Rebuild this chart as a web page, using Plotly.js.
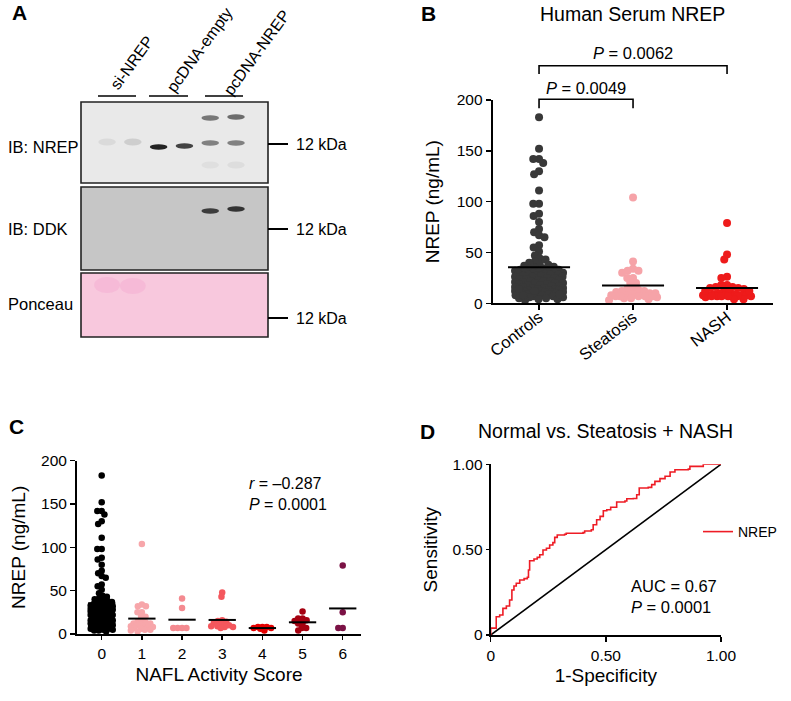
<!DOCTYPE html>
<html><head><meta charset="utf-8">
<script src="https://cdn.plot.ly/plotly-3.0.1.min.js"></script>
<style>html,body{margin:0;padding:0;background:#fff}#chart{width:791px;height:701px}</style>
</head><body><div id="chart"></div>
<script>
// ---------------- DATA ----------------
// Panel B categories
const bCategories = ['Controls', 'Steatosis', 'NASH'];
// Panel C: NAFL activity score groups (ng/mL)
const nasScores = [0, 1, 2, 3, 4, 5, 6];
const score0 = [183,152,142,142,138,130,127,111,98,98,88,86,80,73,70,67,65,57,55,51,47,44,43,41,40,38,38,37,36,
  35,34,34,33,33,32,32,31,31,30,30,30,29,29,28,28,28,27,27,27,26,26,26,25,25,24,24,23,23,22,
  22,22,21,21,20,20,20,19,19,18,18,17,17,16,16,15,15,15,14,14,13,13,13,12,12,12,11,11,11,10,
  10,10,9,9,9,8,8,7,7,6,6,5,5,4,4,3,8,9,12,14];
const score1 = [104,34,32,32,25,25,20,20,15,14,13,12,12,11,10,10,9,8,8,7,6,5,5,4,3];
const score2 = [41,30,7,7,7,7];
const score3 = [48,43,16,15,14,13,11,10,9,9,8,8,7];
const score4 = [8,8,8,7,7,6,4];
const score5 = [26,18,18,16,15,12,12,7,7,4];
const score6 = [79,25,7,7];
// Panel C statistics
const cStatsText = ['<i>r</i> = \u20130.287', '<i>P</i> = 0.0001'];
// Panel B comparisons
const bComparisons = [{from: 0, to: 1, label: '<i>P</i> = 0.0049'}, {from: 0, to: 2, label: '<i>P</i> = 0.0062'}];
// Panel D ROC curve (1-specificity, sensitivity)
const rocFPR = [0,0,0.024,0.039,0.053,0.068,0.082,0.092,0.101,0.111,0.126,0.145,0.159,0.164,0.169,0.188,0.202,0.213,0.227,0.242,0.256,0.270,0.278,0.289,0.321,0.328,0.401,0.408,0.437,0.445,0.460,0.475,0.489,0.504,0.521,0.547,0.583,0.591,0.619,0.634,0.645,0.684,0.699,0.713,0.735,0.757,0.779,0.800,0.858,0.865,0.923,0.923,1.0];
const rocTPR = [0,0.04,0.107,0.117,0.156,0.170,0.205,0.264,0.287,0.303,0.322,0.330,0.338,0.381,0.435,0.445,0.455,0.470,0.498,0.508,0.527,0.541,0.572,0.586,0.590,0.596,0.600,0.609,0.617,0.646,0.675,0.695,0.728,0.734,0.748,0.779,0.785,0.798,0.800,0.822,0.861,0.865,0.881,0.900,0.916,0.930,0.955,0.968,0.972,0.988,0.994,1.0,1.0];
const rocStatsText = ['AUC = 0.67', '<i>P</i> = 0.0001'];
// Panel A western blot
const laneGroups = ['si-NREP', 'pcDNA-empty', 'pcDNA-NREP'];
const blotPanels = ['IB: NREP', 'IB: DDK', 'Ponceau'];
const markerLabel = '12 kDa';
const bandLane = [1, 2, 3, 4, 5, 6, 5, 6, 5, 6, 5, 6];
const bandRow = [142, 142, 147, 146, 143, 143, 118, 117, 165, 165, 211, 209];
const bandIntensity = [0.07, 0.13, 0.95, 0.8, 0.5, 0.5, 0.55, 0.6, 0.05, 0.06, 0.8, 0.85];
const ponceauLane = [1, 2];
const ponceauRow = [285, 286];

// ---------------- LAYOUT HELPERS ----------------
const W = 791, H = 701;
const X = p => p / W;
const Y = p => 1 - p / H;
const FONT = 'Liberation Sans, Arial, Helvetica, sans-serif';

// swarm layout (pixel space)
function swarm(vals, pyPerUnit, dist, maxHalf) {
  const idx = vals.map((v, i) => i).sort((a, b) => vals[b] - vals[a]);
  const placed = []; const off = new Array(vals.length);
  for (const i of idx) {
    const y = vals[i] * pyPerUnit;
    const near = placed.filter(p => Math.abs(p.y - y) < dist);
    const cands = [0];
    near.forEach(p => { const dx = Math.sqrt(dist * dist - (p.y - y) ** 2); cands.push(p.x + dx, p.x - dx); });
    cands.sort((a, b) => (Math.abs(a) - Math.abs(b)) || (a - b));
    let best = null;
    for (const c of cands) {
      if (Math.abs(c) > maxHalf + 1e-9) continue;
      if (near.every(p => (p.x - c) ** 2 + (p.y - y) ** 2 >= dist * dist - 1e-6)) { best = c; break; }
    }
    if (best === null) {
      let bd = -1;
      for (let c = -maxHalf; c <= maxHalf + 1e-9; c += 0.5) {
        const md = Math.min(...near.map(p => (p.x - c) ** 2 + (p.y - y) ** 2));
        if (md > bd + 1e-9) { bd = md; best = c; }
      }
    }
    placed.push({x: best, y}); off[i] = best;
  }
  return off;
}
const mean = a => a.reduce((s, v) => s + v, 0) / a.length;

const traces = [];
const shapes = [];
const annotations = [];

// ---------------- PANEL B ----------------
const bPxY = (303.3 - 100) / 200, bPxX = 94;
const bGroups = [score0, score1.concat(score2), score3.concat(score4, score5, score6)];
const bColors = ['#383838', '#f6a3a8', '#ee1b1b'];
bGroups.forEach((vals, gi) => {
  const off = swarm(vals, bPxY, 5.8, 24);
  traces.push({type: 'scatter', mode: 'markers', xaxis: 'x2', yaxis: 'y2', showlegend: false, cliponaxis: false,
    x: off.map(o => gi + o / bPxX), y: vals, marker: {size: 8, color: bColors[gi], line: {width: 0}}, hoverinfo: 'skip'});
});
bGroups.forEach((vals, gi) => {
  const m = mean(vals);
  traces.push({type: 'scatter', mode: 'lines', xaxis: 'x2', yaxis: 'y2', showlegend: false,
    x: [gi - 0.33, gi + 0.33], y: [m, m], line: {color: '#000', width: 2}, hoverinfo: 'skip'});
});
// brackets
const bracketPx = [{top: 99.3, leg: 108.3, text: 88.3}, {top: 65.7, leg: 74, text: 53.3}];
bComparisons.forEach((c, k) => {
  const bp = bracketPx[k];
  const pts = [[c.from, bp.leg], [c.from, bp.top], [c.to, bp.top], [c.to, bp.leg]];
  shapes.push({type: 'path', xref: 'x2', yref: 'paper', layer: 'above',
    path: pts.map((p, i) => (i ? 'L' : 'M') + p[0] + ',' + Y(p[1])).join(' '), line: {color: '#000', width: 1.6}});
  annotations.push({xref: 'x2', yref: 'paper', x: (c.from + c.to) / 2, y: Y(bp.text), text: c.label, showarrow: false,
    xanchor: 'center', yanchor: 'middle', font: {size: 16.5, family: FONT, color: '#000'}});
});

// ---------------- PANEL C ----------------
const cPxY = (634 - 460.7) / 200, cPxX = (342.7 - 101.7) / 6;
const cGroups = [score0, score1, score2, score3, score4, score5, score6];
const cColors = ['#000000', '#f7a6aa', '#f48a90', '#f4575d', '#e50000', '#a50010', '#7b1245'];
cGroups.forEach((vals, gi) => {
  const off = swarm(vals, cPxY, 4.4, 11);
  traces.push({type: 'scatter', mode: 'markers', xaxis: 'x', yaxis: 'y', showlegend: false, cliponaxis: false,
    x: off.map(o => nasScores[gi] + o / cPxX), y: vals, marker: {size: 6.5, color: cColors[gi], line: {width: 0}}, hoverinfo: 'skip'});
});
cGroups.forEach((vals, gi) => {
  const m = mean(vals);
  traces.push({type: 'scatter', mode: 'lines', xaxis: 'x', yaxis: 'y', showlegend: false,
    x: [nasScores[gi] - 0.34, nasScores[gi] + 0.34], y: [m, m], line: {color: '#000', width: 2}, hoverinfo: 'skip'});
});
annotations.push({xref: 'paper', yref: 'paper', x: X(247), y: Y(494), text: cStatsText.join('<br>'), showarrow: false, align: 'left', xanchor: 'left', yanchor: 'middle', font: {size: 16, family: FONT, color: '#000'}});

// ---------------- PANEL D ----------------
traces.push({type: 'scatter', mode: 'lines', xaxis: 'x3', yaxis: 'y3', showlegend: false,
  x: [0, 1], y: [0, 1], line: {color: '#000', width: 1.6}, hoverinfo: 'skip'});
traces.push({type: 'scatter', mode: 'lines', xaxis: 'x3', yaxis: 'y3', name: 'NREP', showlegend: true,
  x: rocFPR, y: rocTPR, line: {color: '#ee1c25', width: 1.6, shape: 'hv'}, hoverinfo: 'skip'});
annotations.push({xref: 'paper', yref: 'paper', x: X(629), y: Y(596), text: rocStatsText.join('<br>'), showarrow: false, align: 'left', xanchor: 'left', yanchor: 'middle', font: {size: 16.5, family: FONT, color: '#000'}});

// ---------------- PANEL A (blot) ----------------
const blotBoxes = [[102, 183, '#e9e9e9'], [187, 270, '#c6c6c6'], [273, 337, '#f8c8dd']];
blotBoxes.forEach(b => {
  shapes.push({type: 'rect', xref: 'paper', yref: 'paper', layer: 'above', x0: X(81), x1: X(268), y0: Y(b[1]), y1: Y(b[0]),
    fillcolor: b[2], line: {width: 0}});
});
ponceauLane.forEach((l, i) => {
  shapes.push({type: 'circle', xref: 'x4', yref: 'y4', layer: 'above', x0: l - 0.5, x1: l + 0.5,
    y0: ponceauRow[i] - 8, y1: ponceauRow[i] + 8, fillcolor: 'rgba(240,150,200,0.28)', line: {width: 0}});
});
bandLane.forEach((l, i) => {
  const bg = bandRow[i] < 185 ? 233 : 198;
  const s = Math.round(bg - (bg - 25) * bandIntensity[i]);
  const h = bandIntensity[i] > 0.3 ? 2.7 : 3.5;
  shapes.push({type: 'circle', xref: 'x4', yref: 'y4', layer: 'above', x0: l - 0.34, x1: l + 0.34,
    y0: bandRow[i] - h, y1: bandRow[i] + h, fillcolor: `rgb(${s},${s},${s})`, line: {width: 0}});
});
blotBoxes.forEach(b => {
  shapes.push({type: 'rect', xref: 'paper', yref: 'paper', layer: 'above', x0: X(81), x1: X(268), y0: Y(b[1]), y1: Y(b[0]),
    fillcolor: 'rgba(0,0,0,0)', line: {width: 1.6, color: '#222'}});
});
const panelLabelY = [146.5, 229, 304];
const markerY = [144, 229, 318];
blotPanels.forEach((t, i) => {
  annotations.push({xref: 'paper', yref: 'paper', x: X(6), y: Y(panelLabelY[i]), text: t, showarrow: false, xanchor: 'left', yanchor: 'middle', font: {size: 16.5, family: FONT, color: '#000'}});
  shapes.push({type: 'line', xref: 'paper', yref: 'paper', layer: 'above', x0: X(268), x1: X(288), y0: Y(markerY[i]), y1: Y(markerY[i]), line: {width: 2, color: '#000'}});
  annotations.push({xref: 'paper', yref: 'paper', x: X(294), y: Y(markerY[i]), text: markerLabel, showarrow: false, xanchor: 'left', yanchor: 'middle', font: {size: 16, family: FONT, color: '#000'}});
});
const groupLineX = [[98, 136], [149, 188], [205, 243]];
const groupTextCenter = [[131, 63], [200, 50], [257, 53]];
laneGroups.forEach((t, i) => {
  shapes.push({type: 'line', xref: 'paper', yref: 'paper', layer: 'above', x0: X(groupLineX[i][0]), x1: X(groupLineX[i][1]), y0: Y(96), y1: Y(96), line: {width: 1.5, color: '#000'}});
  annotations.push({xref: 'paper', yref: 'paper', x: X(groupTextCenter[i][0]), y: Y(groupTextCenter[i][1]), text: t, textangle: -54, showarrow: false, xanchor: 'center', yanchor: 'middle', font: {size: 16, family: FONT, color: '#000'}});
});

// ---------------- TITLES / LETTERS ----------------
const letters = [['A', 10, 12.5], ['B', 419, 14], ['C', 7, 426], ['D', 418, 431]];
letters.forEach(l => annotations.push({xref: 'paper', yref: 'paper', x: X(l[1]), y: Y(l[2]), text: '<b>' + l[0] + '</b>', showarrow: false, xanchor: 'left', yanchor: 'middle', font: {size: 21, family: FONT, color: '#000'}}));
annotations.push({xref: 'paper', yref: 'paper', x: X(632), y: Y(14), text: 'Human Serum NREP', showarrow: false, xanchor: 'center', yanchor: 'middle', font: {size: 19.5, family: FONT, color: '#000'}});
annotations.push({xref: 'paper', yref: 'paper', x: X(605.5), y: Y(431), text: 'Normal vs. Steatosis + NASH', showarrow: false, xanchor: 'center', yanchor: 'middle', font: {size: 19.5, family: FONT, color: '#000'}});

const axBase = {showline: true, linecolor: '#000', linewidth: 2, ticks: 'outside', ticklen: 5, tickwidth: 1.5, tickcolor: '#000',
  showgrid: false, zeroline: false, fixedrange: true, tickfont: {size: 15.5, family: FONT, color: '#000'}};
const titleFont = {size: 19, family: FONT, color: '#000'};

const layout = {
  width: W, height: H, margin: {l: 0, r: 0, t: 0, b: 0}, paper_bgcolor: '#fff', plot_bgcolor: 'rgba(0,0,0,0)',
  font: {family: FONT, color: '#000'},
  showlegend: true,
  legend: {x: X(698), y: Y(532), xanchor: 'left', yanchor: 'middle', bgcolor: 'rgba(0,0,0,0)', font: {size: 14, family: FONT, color: '#000'}},
  xaxis: Object.assign({}, axBase, {domain: [X(77), X(361)], range: [-0.615, 6.455], anchor: 'y', tickvals: nasScores, ticklen: 4,
    title: {text: 'NAFL Activity Score', font: titleFont, standoff: 7}}),
  yaxis: Object.assign({}, axBase, {domain: [Y(634), Y(460.7)], range: [0, 200], anchor: 'x', tickvals: [0, 50, 100, 150, 200],
    title: {text: 'NREP (ng/mL)', font: titleFont, standoff: 10}}),
  xaxis2: Object.assign({}, axBase, {domain: [X(492.7), X(773)], range: [-0.493, 2.489], anchor: 'y2', tickvals: [0, 1, 2], ticktext: bCategories,
    tickangle: -38, ticklabelstandoff: -9, tickfont: {size: 16.5, family: FONT, color: '#000'}}),
  yaxis2: Object.assign({}, axBase, {domain: [Y(303.3), Y(100)], range: [0, 200], anchor: 'x2', tickvals: [0, 50, 100, 150, 200],
    title: {text: 'NREP (ng/mL)', font: titleFont, standoff: 12}}),
  xaxis3: Object.assign({}, axBase, {domain: [X(490.7), X(721)], range: [0, 1], anchor: 'y3', tickvals: [0, 0.5, 1], ticktext: ['0', '0.50', '1.00'],
    title: {text: '1-Specificity', font: titleFont, standoff: 6}}),
  yaxis3: Object.assign({}, axBase, {domain: [Y(635), Y(464.3)], range: [0, 1], anchor: 'x3', tickvals: [0, 0.5, 1], ticktext: ['0', '0.50', '1.00'], ticklen: 3,
    title: {text: 'Sensitivity', font: titleFont, standoff: 10}}),
  xaxis4: {domain: [X(81), X(268)], range: [-0.01, 7.24], anchor: 'y4', visible: false, fixedrange: true},
  yaxis4: {domain: [Y(337), Y(102)], range: [337, 102], anchor: 'x4', visible: false, fixedrange: true},
  shapes: shapes, annotations: annotations
};

Plotly.newPlot('chart', traces, layout, {staticPlot: true, displayModeBar: false});
</script></body></html>
